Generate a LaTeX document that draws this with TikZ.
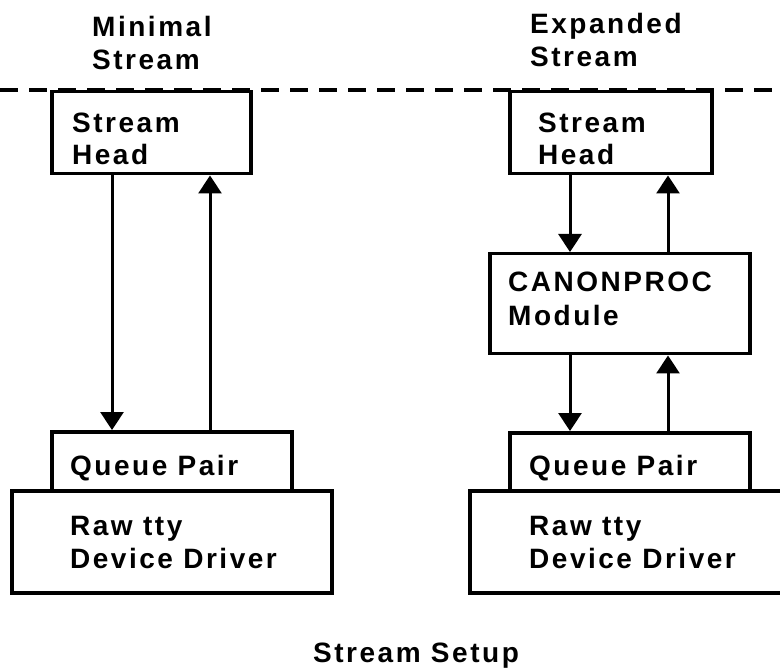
\documentclass[tikz,border=0pt]{standalone}
\usepackage{fontspec}
\setmainfont{Liberation Sans}[LetterSpace=9]
\usetikzlibrary{arrows.meta}
\newcommand{\lblfont}{\fontsize{28}{32}\selectfont\bfseries}
\tikzset{
  box/.style={draw, line width=3.5pt, inner sep=0pt, anchor=north west, fill=white},
  txt/.style={anchor=base west, inner sep=0pt, font=\lblfont},
  arr/.style={line width=3pt, -{Triangle[width=23pt,length=18pt]}},
  sep/.style={line width=3.2pt, dash pattern=on 18pt off 11pt}
}
\begin{document}
\begin{tikzpicture}[x=1pt,y=-1pt]
\useasboundingbox (0,0) rectangle (780,671);
% separator
\coordinate (sepl) at (0,90);
\coordinate (sepr) at (780,90);
\draw[sep] (sepl) -- (sepr);
% headers
\node[txt] (h1a) at (92,37) {Minimal};
\node[txt] (h1b) at (92,70) {Stream};
\node[txt] (h2a) at (530,34) {Expanded};
\node[txt] (h2b) at (530,67) {Stream};
% left stack
\node[box, minimum width=199pt, minimum height=82pt] (sh1) at (50,90) {};
\node[box, minimum width=240pt, minimum height=59pt] (qp1) at (50,430) {};
\node[box, minimum width=320pt, minimum height=102pt] (rd1) at (10,489) {};
\node[txt] (sh1a) at (72,133) {Stream};
\node[txt] (sh1b) at (72,165) {Head};
\node[txt] (qp1a) at (70,475) {Queue Pair};
\node[txt] (rd1a) at (70,535) {Raw tty};
\node[txt] (rd1b) at (70,568) {Device Driver};
\draw[arr] ([xshift=62pt]sh1.south west) -- ([xshift=62pt]qp1.north west);
\draw[arr] ([xshift=160pt]qp1.north west) -- ([xshift=160pt]sh1.south west);
% right stack
\node[box, minimum width=202pt, minimum height=82pt] (sh2) at (508,90) {};
\node[box, minimum width=260pt, minimum height=100pt] (cp) at (488,252) {};
\node[box, minimum width=240pt, minimum height=58pt] (qp2) at (508,431) {};
\node[box, minimum width=322pt, minimum height=102pt] (rd2) at (468,489) {};
\node[txt] (sh2a) at (538,133) {Stream};
\node[txt] (sh2b) at (538,165) {Head};
\node[txt] (cpa) at (508,292) {CANONPROC};
\node[txt] (cpb) at (508,326) {Module};
\node[txt] (qp2a) at (529,475) {Queue Pair};
\node[txt] (rd2a) at (529,535) {Raw tty};
\node[txt] (rd2b) at (529,568) {Device Driver};
\draw[arr] ([xshift=62pt]sh2.south west) -- ([xshift=82pt]cp.north west);
\draw[arr] ([xshift=180pt]cp.north west) -- ([xshift=160pt]sh2.south west);
\draw[arr] ([xshift=82pt]cp.south west) -- ([xshift=62pt]qp2.north west);
\draw[arr] ([xshift=160pt]qp2.north west) -- ([xshift=180pt]cp.south west);
% caption
\node[txt] (cap) at (313,662) {Stream Setup};
\end{tikzpicture}
\end{document}
